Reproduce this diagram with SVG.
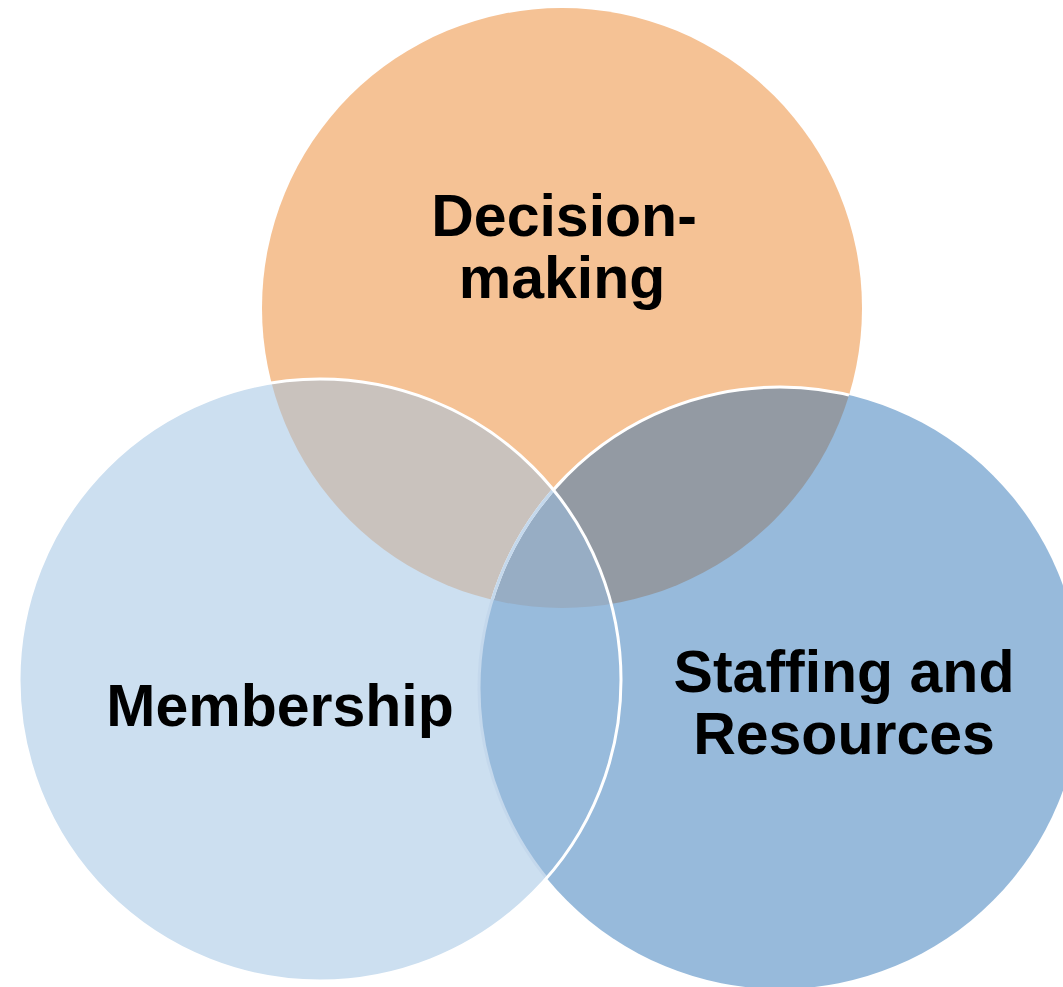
<svg xmlns="http://www.w3.org/2000/svg" width="1063" height="987" viewBox="0 0 1063 987">
  <style>
    .label { font-family: "Liberation Sans", Arial, sans-serif; font-weight: bold; font-size: 59px; fill: #000; text-anchor: middle; }
    .edge { fill: none; stroke-width: 3; }
  </style>
  <defs>
    <circle id="cTop" cx="562" cy="308" r="300"/>
    <circle id="cLeft" cx="320" cy="680" r="301"/>
    <circle id="cRight" cx="780" cy="688" r="301"/>
    <clipPath id="clipTop"><use href="#cTop"/></clipPath>
    <clipPath id="clipLeft"><use href="#cLeft"/></clipPath>
    <clipPath id="clipRight"><use href="#cRight"/></clipPath>
  </defs>
  <rect width="1063" height="987" fill="#ffffff"/>

  <!-- base circles -->
  <g id="decision-making-circle">
    <use href="#cTop" fill="#F5C295"/>
  </g>
  <g id="staffing-circle">
    <use href="#cRight" fill="#97BADB"/>
  </g>
  <g id="membership-circle">
    <use href="#cLeft" fill="#CCDFF0"/>
  </g>

  <!-- overlap regions -->
  <g id="overlaps">
    <g clip-path="url(#clipTop)"><use href="#cLeft" fill="#C9C2BD"/></g>
    <g clip-path="url(#clipTop)"><use href="#cRight" fill="#939AA3"/></g>
    <g clip-path="url(#clipLeft)"><use href="#cRight" fill="#98BBDC"/></g>
    <g clip-path="url(#clipTop)"><g clip-path="url(#clipLeft)"><use href="#cRight" fill="#97ADC4"/></g></g>
  </g>

  <!-- outlines -->
  <g id="outlines">
    <g clip-path="url(#clipTop)"><use href="#cRight" class="edge" stroke="#ffffff"/></g>
    <g clip-path="url(#clipLeft)"><use href="#cRight" class="edge" stroke="#C4D8EC"/></g>
    <use href="#cLeft" class="edge" stroke="#ffffff"/>
  </g>

  <!-- labels -->
  <g id="label-decision-making">
    <text class="label" x="564" y="236">Decision-</text>
    <text class="label" x="562" y="298">making</text>
  </g>
  <g id="label-membership">
    <text class="label" x="280" y="726">Membership</text>
  </g>
  <g id="label-staffing">
    <text class="label" x="844" y="692">Staffing and</text>
    <text class="label" x="844" y="754">Resources</text>
  </g>
</svg>
